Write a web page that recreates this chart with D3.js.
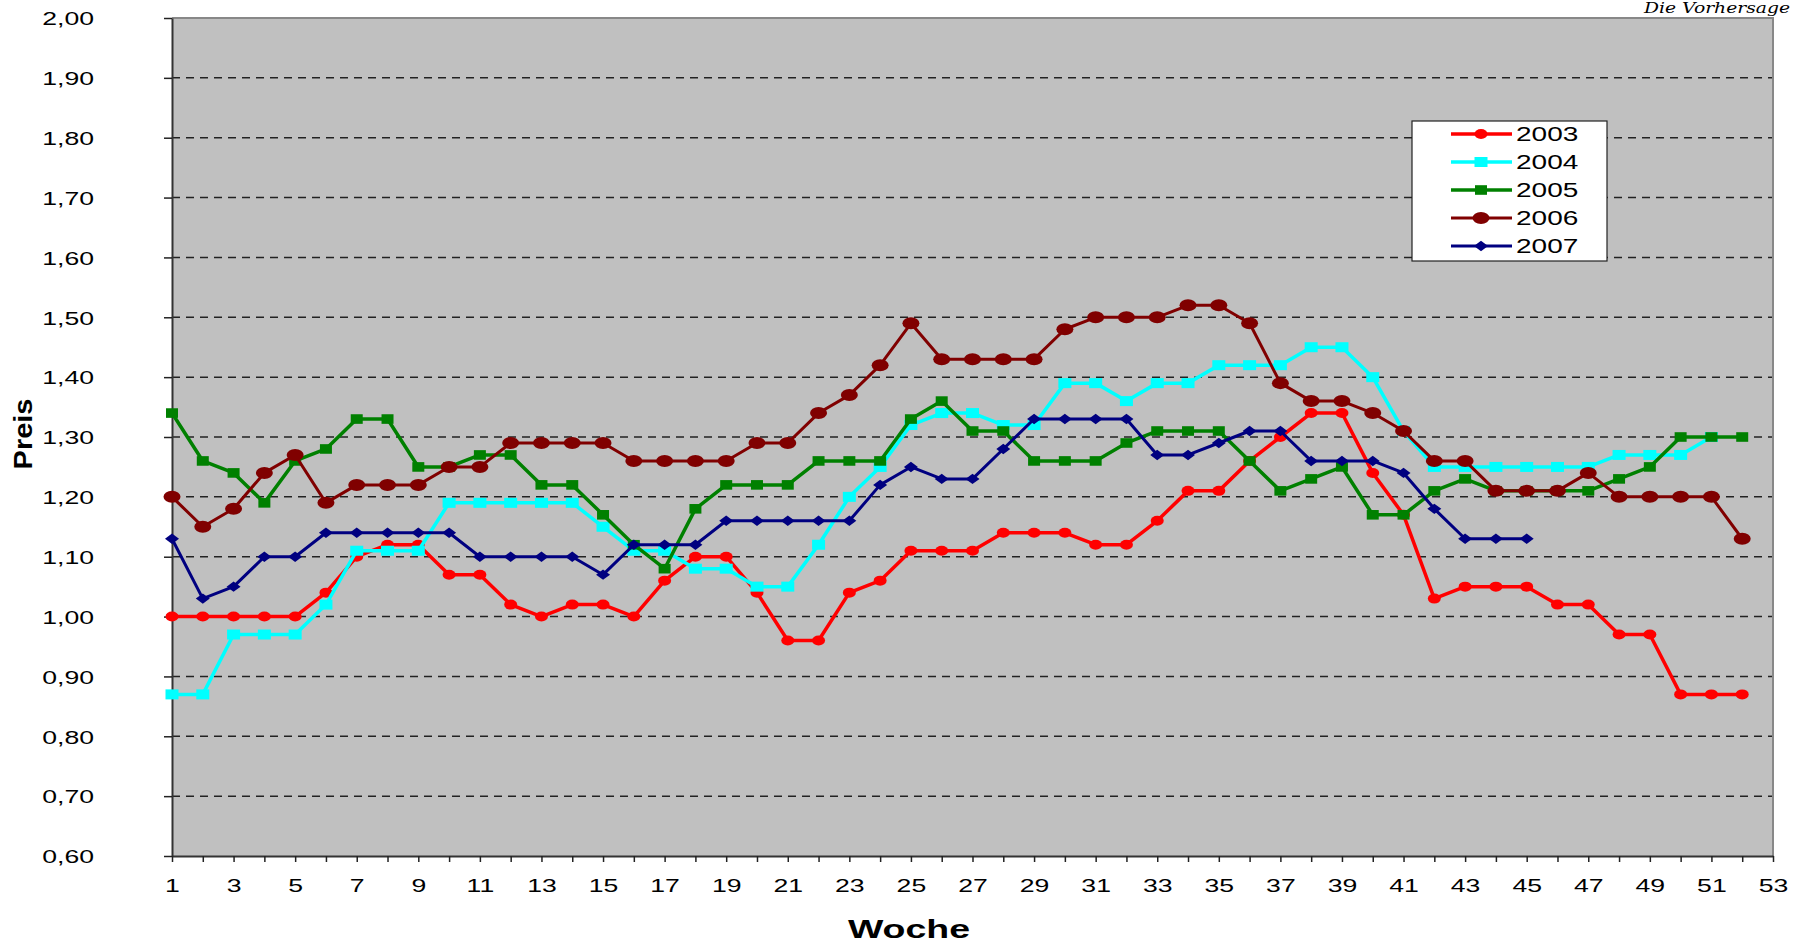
<!DOCTYPE html>
<html>
<head>
<meta charset="utf-8">
<script src="https://cdn.jsdelivr.net/npm/d3@7"></script>
<style>
	body { margin: 0; background: #fff; }
	svg { display: block; font-family: "Liberation Sans", Arial, sans-serif; }
</style>
</head>
<body>
<script>
// weeks 1..52, prices per year
const years = ["2003", "2004", "2005", "2006", "2007"];

const p2003 = [1.00, 1.00, 1.00, 1.00, 1.00, 1.04, 1.10, 1.12, 1.12, 1.07, 1.07, 1.02, 1.00, 1.02, 1.02, 1.00, 1.06, 1.10, 1.10, 1.04,
	0.96, 0.96, 1.04, 1.06, 1.11, 1.11, 1.11, 1.14, 1.14, 1.14, 1.12, 1.12, 1.16, 1.21, 1.21, 1.26, 1.30, 1.34, 1.34, 1.24,
	1.17, 1.03, 1.05, 1.05, 1.05, 1.02, 1.02, 0.97, 0.97, 0.87, 0.87, 0.87];
const p2004 = [0.87, 0.87, 0.97, 0.97, 0.97, 1.02, 1.11, 1.11, 1.11, 1.19, 1.19, 1.19, 1.19, 1.19, 1.15, 1.11, 1.11, 1.08, 1.08, 1.05,
	1.05, 1.12, 1.20, 1.25, 1.32, 1.34, 1.34, 1.32, 1.32, 1.39, 1.39, 1.36, 1.39, 1.39, 1.42, 1.42, 1.42, 1.45, 1.45, 1.40,
	1.31, 1.25, 1.25, 1.25, 1.25, 1.25, 1.25, 1.27, 1.27, 1.27, 1.30];
const p2005 = [1.34, 1.26, 1.24, 1.19, 1.26, 1.28, 1.33, 1.33, 1.25, 1.25, 1.27, 1.27, 1.22, 1.22, 1.17, 1.12, 1.08, 1.18, 1.22, 1.22,
	1.22, 1.26, 1.26, 1.26, 1.33, 1.36, 1.31, 1.31, 1.26, 1.26, 1.26, 1.29, 1.31, 1.31, 1.31, 1.26, 1.21, 1.23, 1.25, 1.17,
	1.17, 1.21, 1.23, 1.21, 1.21, 1.21, 1.21, 1.23, 1.25, 1.30, 1.30, 1.30];
const p2006 = [1.20, 1.15, 1.18, 1.24, 1.27, 1.19, 1.22, 1.22, 1.22, 1.25, 1.25, 1.29, 1.29, 1.29, 1.29, 1.26, 1.26, 1.26, 1.26, 1.29,
	1.29, 1.34, 1.37, 1.42, 1.49, 1.43, 1.43, 1.43, 1.43, 1.48, 1.50, 1.50, 1.50, 1.52, 1.52, 1.49, 1.39, 1.36, 1.36, 1.34,
	1.31, 1.26, 1.26, 1.21, 1.21, 1.21, 1.24, 1.20, 1.20, 1.20, 1.20, 1.13];
const p2007 = [1.13, 1.03, 1.05, 1.10, 1.10, 1.14, 1.14, 1.14, 1.14, 1.14, 1.10, 1.10, 1.10, 1.10, 1.07, 1.12, 1.12, 1.12, 1.16, 1.16,
	1.16, 1.16, 1.16, 1.22, 1.25, 1.23, 1.23, 1.28, 1.33, 1.33, 1.33, 1.33, 1.27, 1.27, 1.29, 1.31, 1.31, 1.26, 1.26, 1.26,
	1.24, 1.18, 1.13, 1.13, 1.13];

const yTicks = [0.6, 0.7, 0.8, 0.9, 1.0, 1.1, 1.2, 1.3, 1.4, 1.5, 1.6, 1.7, 1.8, 1.9, 2.0];
const weekTicks = d3.range(1, 54);

const series = [
	{ name: years[0], values: p2003, color: "#ff0000", shape: "circle", rx: 6.5, ry: 5, lw: 3.5 },
	{ name: years[1], values: p2004, color: "#00ffff", shape: "square", rx: 6.5, ry: 5, lw: 3.5 },
	{ name: years[2], values: p2005, color: "#008000", shape: "square", rx: 6, ry: 4.8, lw: 3.5 },
	{ name: years[3], values: p2006, color: "#800000", shape: "circle", rx: 8.5, ry: 6, lw: 3 },
	{ name: years[4], values: p2007, color: "#000080", shape: "diamond", rx: 7, ry: 5.2, lw: 3 }
];

/**
 * Dimensions
 */
const width = 1802;
const height = 944;
const margin = { top: 18, right: 29, bottom: 88, left: 172 };
const chartW = width - margin.left - margin.right;
const chartH = height - margin.top - margin.bottom;
const stretch = 1.4; // the original is widened horizontally

const svg = d3.select("body").append("svg").attr("width", width).attr("height", height);

const xScale = d3.scaleLinear().domain([1, 53]).range([0, chartW]);
const yScale = d3.scaleLinear().domain([0.6, 2.0]).range([chartH, 0]);
const comma = d3.formatLocale({ decimal: ",", thousands: ".", grouping: [3], currency: ["", "€"] }).format(".2f");

const chart = svg.append("g").attr("transform", "translate(" + margin.left + "," + margin.top + ")");

// plot area
chart.append("rect").attr("width", chartW).attr("height", chartH).attr("fill", "#c0c0c0");

// grid lines
chart.append("g").selectAll("line")
	.data(yTicks.filter(d => d > 0.6 && d < 2.0))
	.enter().append("line")
	.attr("x1", 0).attr("x2", chartW)
	.attr("y1", d => yScale(d)).attr("y2", d => yScale(d))
	.attr("stroke", "#222").attr("stroke-width", 1.5).attr("stroke-dasharray", "8,6");

// top and right border
chart.append("path")
	.attr("d", "M0,0H" + chartW + "V" + chartH)
	.attr("fill", "none").attr("stroke", "#888").attr("stroke-width", 2);

// axes
const yAxis = d3.axisLeft(yScale).tickValues(yTicks).tickSize(8).tickSizeOuter(0).tickFormat(comma);
const yG = chart.append("g").call(yAxis);
yG.select(".domain").attr("stroke", "#333").attr("stroke-width", 2);
yG.selectAll(".tick line").attr("stroke", "#222").attr("stroke-width", 1.5);
yG.selectAll(".tick text")
	.attr("x", 0).attr("dy", "0.36em")
	.attr("transform", "translate(-78,0) scale(" + stretch + ",1)")
	.attr("font-size", 19).attr("fill", "#000");

const xAxis = d3.axisBottom(xScale).tickValues(weekTicks).tickSize(6).tickSizeOuter(0)
	.tickFormat(d => d % 2 === 1 ? d : "");
const xG = chart.append("g").attr("transform", "translate(0," + chartH + ")").call(xAxis);
xG.select(".domain").attr("stroke", "#333").attr("stroke-width", 2);
xG.selectAll(".tick line").attr("stroke", "#222").attr("stroke-width", 1.5);
xG.selectAll(".tick text")
	.attr("y", 36).attr("dy", 0)
	.attr("transform", "scale(" + stretch + ",1)")
	.attr("font-size", 19).attr("fill", "#000");

// axis titles
svg.append("text")
	.attr("transform", "translate(909,938) scale(1.5,1)")
	.attr("text-anchor", "middle").attr("font-size", 25).attr("font-weight", "bold")
	.text("Woche");

svg.append("text")
	.attr("transform", "translate(32,434) rotate(-90) scale(1.16,1)")
	.attr("text-anchor", "middle").attr("font-size", 25).attr("font-weight", "bold")
	.text("Preis");

// handwritten note at the top right
svg.append("text")
	.attr("transform", "translate(1644,13) scale(1.25,1)")
	.attr("font-size", 15).attr("font-style", "italic").attr("font-family", "DejaVu Serif, serif")
	.text("Die Vorhersage");

/**
 * Markers
 */
function drawMarker(sel, s) {
	if (s.shape === "circle") {
		sel.append("ellipse").attr("rx", s.rx).attr("ry", s.ry).attr("fill", s.color);
	} else if (s.shape === "square") {
		sel.append("rect").attr("x", -s.rx).attr("y", -s.ry).attr("width", s.rx * 2).attr("height", s.ry * 2).attr("fill", s.color);
	} else {
		sel.append("path")
			.attr("d", "M0," + -s.ry + "L" + s.rx + ",0L0," + s.ry + "L" + -s.rx + ",0Z")
			.attr("fill", s.color);
	}
}

const line = d3.line().x((d, i) => xScale(i + 1)).y(d => yScale(d));

series.forEach(function(s) {
	const g = chart.append("g").attr("class", "series");
	g.append("path").attr("d", line(s.values))
		.attr("fill", "none").attr("stroke", s.color).attr("stroke-width", s.lw).attr("stroke-linejoin", "round");
	g.selectAll(".pt").data(s.values).enter().append("g")
		.attr("class", "pt")
		.attr("transform", (d, i) => "translate(" + xScale(i + 1) + "," + yScale(d) + ")")
		.each(function() { drawMarker(d3.select(this), s); });
});

/**
 * Legend
 */
const legend = svg.append("g").attr("transform", "translate(1412,121)");
legend.append("rect").attr("width", 195).attr("height", 140).attr("fill", "#fff").attr("stroke", "#222").attr("stroke-width", 1.2);
const rows = legend.selectAll(".row").data(series).enter().append("g")
	.attr("class", "row")
	.attr("transform", (d, i) => "translate(0," + (13 + i * 28) + ")");
rows.append("line").attr("x1", 39).attr("x2", 100)
	.attr("stroke", d => d.color).attr("stroke-width", d => d.lw);
rows.append("g").attr("transform", "translate(69,0)").each(function(d) { drawMarker(d3.select(this), d); });
rows.append("text")
	.attr("transform", "translate(104,0) scale(" + stretch + ",1)")
	.attr("dy", "0.36em").attr("font-size", 20)
	.text(d => d.name);
</script>
</body>
</html>
